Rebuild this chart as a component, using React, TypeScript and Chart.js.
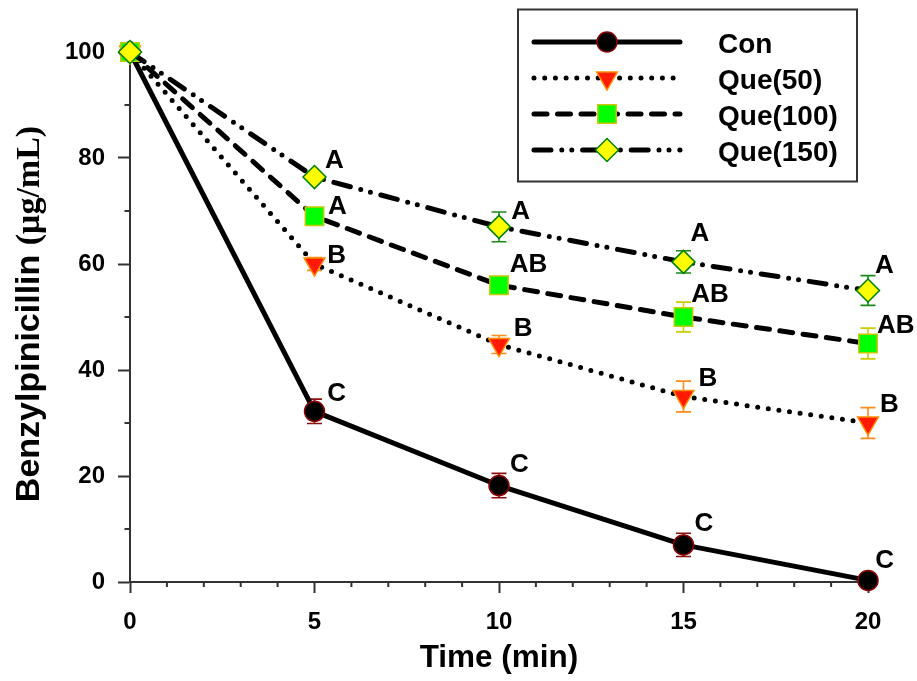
import React, { useEffect, useRef } from 'react';
import { Chart, registerables } from 'chart.js';
import { drawPoint } from 'chart.js/helpers';

Chart.register(...registerables);

// ---------- data ----------
const times = [0, 5, 10, 15, 20];
const seriesNames = ['Con', 'Que(50)', 'Que(100)', 'Que(150)'];
const conValues = [100, 32.2, 18.2, 7.0, 0.3];
const que50Values = [100, 60.0, 44.8, 35.0, 30.0];
const que100Values = [100, 69.0, 56.0, 50.0, 45.0];
const que150Values = [100, 76.4, 67.0, 60.4, 55.0];
const conErrors = [0, 2.3, 2.3, 2.2, 0.4];
const que50Errors = [0, 1.2, 1.7, 2.9, 2.9];
const que100Errors = [0, 0.8, 1.2, 2.8, 2.9];
const que150Errors = [0, 0.8, 2.8, 2.1, 2.8];
const conLetters = ['', 'C', 'C', 'C', 'C'];
const que50Letters = ['', 'B', 'B', 'B', 'B'];
const que100Letters = ['', 'A', 'AB', 'AB', 'AB'];
const que150Letters = ['', 'A', 'A', 'A', 'A'];
const xTickStep = 5;
const yTickStep = 20;
const xTitle = 'Time (min)';
const yTitleMain = 'Benzylpinicillin ';
const yTitleUnit = '(\u03bcg/mL)';

// ---------- layout / styles (pixel offsets of letter annotations relative to their point) ----------
const conLetterOffsets = [[0, 0], [12.7, -20], [11, -23], [11, -23], [7.3, -22]];
const que50LetterOffsets = [[0, 0], [12.7, -10], [14.8, -18], [15, -20], [12, -20]];
const que100LetterOffsets = [[0, 0], [13.4, -12], [10.8, -23], [7.7, -24], [9, -20]];
const que150LetterOffsets = [[0, 0], [10.4, -18], [12.2, -17], [7, -30], [7, -27]];

const SANS = "'Liberation Sans', Arial, Helvetica, sans-serif";
const SERIF = "'Liberation Serif', 'Times New Roman', serif";

const seriesValues = [conValues, que50Values, que100Values, que150Values];
const seriesErrors = [conErrors, que50Errors, que100Errors, que150Errors];
const seriesLetters = [conLetters, que50Letters, que100Letters, que150Letters];
const seriesLetterOffsets = [conLetterOffsets, que50LetterOffsets, que100LetterOffsets, que150LetterOffsets];

const styles = [
  { dash: [], pointStyle: 'circle', radius: 10, rotation: 0, fill: '#000000', border: '#8B0000', err: '#8B1010', order: 4 },
  { dash: [0, 10.7], pointStyle: 'triangle', radius: 12, rotation: 180, fill: '#FF1A00', border: '#FF8C00', err: '#FF8C1A', order: 3 },
  { dash: [13, 10.5], pointStyle: 'rect', radius: 13, rotation: 0, fill: '#00FF00', border: '#C8C800', err: '#CCCC00', order: 2 },
  { dash: [17, 10.8, 0, 10, 0, 10.8], pointStyle: 'rectRot', radius: 11.5, rotation: 0, fill: '#FFFF00', border: '#008000', err: '#1A8A1A', order: 1 },
];

const overlayPlugin = {
  id: 'overlay',
  beforeDatasetsDraw(chart: any) {
    const ctx = chart.ctx;
    const xs = chart.scales.x;
    const ys = chart.scales.y;
    ctx.save();
    seriesValues.forEach((vals, i) => {
      const errs = seriesErrors[i];
      ctx.strokeStyle = styles[i].err;
      ctx.lineWidth = 1.6;
      ctx.setLineDash([]);
      vals.forEach((v, j) => {
        const e = errs[j];
        if (!e) return;
        const x = xs.getPixelForValue(times[j]);
        const yt = ys.getPixelForValue(v + e);
        const yb = ys.getPixelForValue(v - e);
        ctx.beginPath();
        ctx.moveTo(x, yt);
        ctx.lineTo(x, yb);
        ctx.moveTo(x - 7.5, yt);
        ctx.lineTo(x + 7.5, yt);
        ctx.moveTo(x - 7.5, yb);
        ctx.lineTo(x + 7.5, yb);
        ctx.stroke();
      });
    });
    ctx.restore();
  },
  afterDraw(chart: any) {
    const ctx = chart.ctx;
    const xs = chart.scales.x;
    const ys = chart.scales.y;
    const area = chart.chartArea;
    ctx.save();
    // minor ticks
    ctx.strokeStyle = '#333333';
    ctx.lineWidth = 2;
    ctx.setLineDash([]);
    ctx.beginPath();
    for (let v = xs.min; v <= xs.max; v += 1) {
      if (v % xTickStep === 0) continue;
      const x = xs.getPixelForValue(v);
      ctx.moveTo(x, area.bottom);
      ctx.lineTo(x, area.bottom + 5);
    }
    for (let v = ys.min + yTickStep / 2; v < ys.max; v += yTickStep) {
      const y = ys.getPixelForValue(v);
      ctx.moveTo(area.left, y);
      ctx.lineTo(area.left - 5.5, y);
    }
    ctx.stroke();

    // letters
    ctx.fillStyle = '#000';
    ctx.font = `bold 26px ${SANS}`;
    ctx.textAlign = 'left';
    ctx.textBaseline = 'alphabetic';
    seriesValues.forEach((vals, i) => {
      vals.forEach((v, j) => {
        const letter = seriesLetters[i][j];
        if (!letter) return;
        const [dx, dy] = seriesLetterOffsets[i][j];
        const x = xs.getPixelForValue(times[j]);
        const y = ys.getPixelForValue(v);
        ctx.fillText(letter, x + dx, y + dy + 9.3);
      });
    });

    // x title
    ctx.font = `bold 31.5px ${SANS}`;
    ctx.textAlign = 'center';
    ctx.fillText(xTitle, (area.left + area.right) / 2, 667);

    // y title (mixed fonts)
    ctx.save();
    const cy = 314;
    ctx.translate(38.5, cy);
    ctx.rotate(-Math.PI / 2);
    ctx.textAlign = 'left';
    ctx.font = `bold 34px ${SANS}`;
    const w1 = ctx.measureText(yTitleMain).width;
    ctx.font = `bold 34px ${SERIF}`;
    const w2 = ctx.measureText(yTitleUnit).width;
    const start = -(w1 + w2) / 2;
    ctx.font = `bold 34px ${SANS}`;
    ctx.fillText(yTitleMain, start, 0);
    ctx.font = `bold 34px ${SERIF}`;
    ctx.fillText(yTitleUnit, start + w1, 0);
    ctx.restore();

    // legend
    ctx.strokeStyle = '#333333';
    ctx.lineWidth = 2;
    ctx.setLineDash([]);
    ctx.strokeRect(518, 9.5, 339, 172);
    seriesNames.forEach((name, i) => {
      const st = styles[i];
      const ry = 42 + 36 * i;
      ctx.strokeStyle = '#000';
      ctx.lineWidth = 5;
      ctx.lineCap = 'round';
      ctx.setLineDash(st.dash);
      ctx.beginPath();
      ctx.moveTo(534, ry);
      ctx.lineTo(680, ry);
      ctx.stroke();
      ctx.setLineDash([]);
      ctx.fillStyle = st.fill;
      ctx.strokeStyle = st.border;
      ctx.lineWidth = 1.5;
      drawPoint(ctx, { pointStyle: st.pointStyle, radius: st.radius, rotation: st.rotation, borderWidth: 1.5 } as any, 607, ry);
      ctx.fillStyle = '#000';
      ctx.font = `bold 28px ${SANS}`;
      ctx.textAlign = 'left';
      ctx.textBaseline = 'alphabetic';
      ctx.fillText(name, 718, ry + 10.5);
    });
    ctx.restore();
  },
};

export default function App() {
  const canvasRef = useRef<HTMLCanvasElement>(null);

  useEffect(() => {
    if (!canvasRef.current) return;
    const datasets = seriesNames.map((name, i) => {
      const st = styles[i];
      return {
        label: name,
        data: times.map((t, j) => ({ x: t, y: seriesValues[i][j] })),
        borderColor: '#000000',
        borderWidth: 5,
        borderDash: st.dash,
        borderCapStyle: 'round' as const,
        borderJoinStyle: 'round' as const,
        pointStyle: st.pointStyle as any,
        pointRadius: st.radius,
        pointHoverRadius: st.radius,
        pointRotation: st.rotation,
        pointBackgroundColor: st.fill,
        pointBorderColor: st.border,
        pointBorderWidth: 1.5,
        tension: 0,
        fill: false,
        clip: false as any,
        order: st.order,
      };
    });

    const chart = new Chart(canvasRef.current, {
      type: 'line',
      data: { datasets },
      options: {
        animation: false,
        responsive: false,
        events: [],
        layout: { padding: { left: 0, right: 49, top: 52, bottom: 0 } },
        plugins: { legend: { display: false }, tooltip: { enabled: false } },
        scales: {
          x: {
            type: 'linear',
            min: 0,
            max: 20,
            afterFit: (s: any) => { s.height = 99; },
            ticks: { stepSize: xTickStep, color: '#000', padding: 15, font: { family: SANS, size: 24, weight: 'bold' } },
            grid: { drawOnChartArea: false, drawTicks: true, tickLength: 11, tickColor: '#333333', tickWidth: 2, color: '#333333' },
            border: { display: true, color: '#333333', width: 2 },
          },
          y: {
            type: 'linear',
            min: 0,
            max: 100,
            afterFit: (s: any) => { s.width = 130; },
            ticks: { stepSize: yTickStep, color: '#000', padding: 13, font: { family: SANS, size: 24, weight: 'bold' } },
            grid: { drawOnChartArea: false, drawTicks: true, tickLength: 12, tickColor: '#333333', tickWidth: 2, color: '#333333' },
            border: { display: true, color: '#333333', width: 2 },
          },
        },
      },
      plugins: [overlayPlugin],
    });
    return () => chart.destroy();
  }, []);

  return (
    <div style={{ position: 'fixed', left: 0, top: 0, width: 917, height: 681, background: '#fff' }}>
      <canvas ref={canvasRef} width={917} height={681} style={{ display: 'block' }} />
    </div>
  );
}
